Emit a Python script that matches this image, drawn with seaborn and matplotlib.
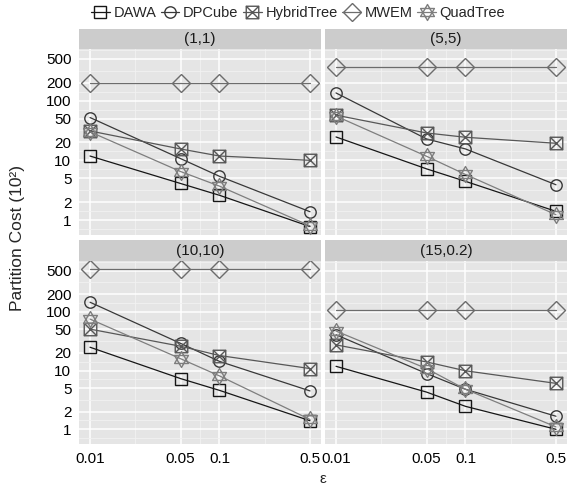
import matplotlib
matplotlib.use("Agg")
import matplotlib.pyplot as plt
from matplotlib.path import Path
from matplotlib.lines import Line2D
from matplotlib.ticker import FixedLocator, NullFormatter
import numpy as np
import pandas as pd
import seaborn as sns

# ---- data (partition cost in units of 10^2) ----
eps = [0.01, 0.05, 0.1, 0.5]
panels = ["(1,1)", "(5,5)", "(10,10)", "(15,0.2)"]
methods = ["DAWA", "DPCube", "HybridTree", "MWEM", "QuadTree"]

# one list per panel, in the order of `panels`
dawa = [[11.8, 4.1, 2.6, 0.78], [24.6, 7.2, 4.45, 1.4],
        [24.9, 7.3, 4.6, 1.4], [11.8, 4.3, 2.46, 1.0]]
dpcube = [[52, 10.7, 5.4, 1.38], [134, 22.8, 15.5, 3.9],
          [145, 29, 14.3, 4.5], [40.6, 8.9, 4.8, 1.67]]
hybridtree = [[31, 15.5, 11.8, 10.0], [57, 28.7, 24.3, 19.3],
              [50.6, 25.9, 18, 10.8], [27.3, 14, 9.9, 6.05]]
mwem = [[195, 195, 195, 195], [366, 366, 366, 366],
        [526, 526, 526, 526], [109, 109, 109, 109]]
quadtree = [[30, 6.5, 3.7, 0.8], [55, 11.7, 5.8, 1.23],
            [75, 15.9, 8.1, 1.47], [47, 10.8, 4.8, 1.1]]

y_breaks = [1, 2, 5, 10, 20, 50, 100, 200, 500]
x_breaks = eps
x_labels = ["0.01", "0.05", "0.1", "0.5"]

series = {"DAWA": dawa, "DPCube": dpcube, "HybridTree": hybridtree,
          "MWEM": mwem, "QuadTree": quadtree}

rows = []
for m in methods:
    for p, vals in zip(panels, series[m]):
        for e, v in zip(eps, vals):
            rows.append({"method": m, "panel": p, "eps": e, "cost": v})
df = pd.DataFrame(rows)

# ---- styles ----
colors = {"DAWA": "#161616", "DPCube": "#383838", "HybridTree": "#575757",
          "MWEM": "#6c6c6c", "QuadTree": "#7e7e7e"}

box_x = Path([(-1, -1), (1, -1), (1, 1), (-1, 1), (-1, -1),
              (-1, -1), (1, 1), (-1, 1), (1, -1)],
             [Path.MOVETO, Path.LINETO, Path.LINETO, Path.LINETO, Path.CLOSEPOLY,
              Path.MOVETO, Path.LINETO, Path.MOVETO, Path.LINETO])
h = np.sqrt(3) / 2
star = Path([(0, 1), (-h, -0.5), (h, -0.5), (0, 1),
             (0, -1), (-h, 0.5), (h, 0.5), (0, -1)],
            [Path.MOVETO, Path.LINETO, Path.LINETO, Path.CLOSEPOLY,
             Path.MOVETO, Path.LINETO, Path.LINETO, Path.CLOSEPOLY])
markers = {"DAWA": "s", "DPCube": "o", "HybridTree": box_x,
           "MWEM": "D", "QuadTree": star}
msizes = {"DAWA": 9, "DPCube": 8.2, "HybridTree": 9, "MWEM": 9, "QuadTree": 11.5}

sns.set_style("white")
plt.rcParams["font.family"] = ["Liberation Sans", "DejaVu Sans"]

W, H = 580, 487
fig = plt.figure(figsize=(W / 100, H / 100), dpi=100)


def rect(x0, y0, x1, y1):
    return [x0 / W, 1 - y1 / H, (x1 - x0) / W, (y1 - y0) / H]


cols_px = [(79, 321), (325, 567)]
rows_px = [(29, 49, 235), (240, 261, 444)]

# scale limits with ggplot-like 5% expansion in log space
lo, hi = np.log10(df["cost"].min()), np.log10(df["cost"].max())
pad = (hi - lo) * 0.05
ylim = (10 ** (lo - pad), 10 ** (hi + pad))
xlo, xhi = np.log10(min(eps)), np.log10(max(eps))
xpad = (xhi - xlo) * 0.05
xlim = (10 ** (xlo - xpad), 10 ** (xhi + xpad))


def minor_breaks(breaks, lim):
    b = list(np.log10(breaks))
    d = b[1] - b[0]
    b = [b[0] - d] + b + [b[-1] + d]
    mids = [(a + c) / 2 for a, c in zip(b[:-1], b[1:])]
    return [10 ** m for m in mids if lim[0] < 10 ** m < lim[1]]


for i, p in enumerate(panels):
    r, c = divmod(i, 2)
    st, top, bot = rows_px[r]
    x0, x1 = cols_px[c]

    sax = fig.add_axes(rect(x0, st, x1, top))
    sax.set_facecolor("#cccccc")
    sax.set_xticks([]); sax.set_yticks([])
    for s in sax.spines.values():
        s.set_visible(False)
    sax.text(0.5, 0.5, p, ha="center", va="center", fontsize=11,
             color="#1a1a1a", transform=sax.transAxes)

    ax = fig.add_axes(rect(x0, top, x1, bot))
    ax.set_facecolor("#e5e5e5")
    ax.set_xscale("log"); ax.set_yscale("log")
    ax.set_xlim(xlim); ax.set_ylim(ylim)
    ax.xaxis.set_major_locator(FixedLocator(x_breaks))
    ax.yaxis.set_major_locator(FixedLocator(y_breaks))
    ax.xaxis.set_minor_locator(FixedLocator(minor_breaks(x_breaks, xlim)))
    ax.yaxis.set_minor_locator(FixedLocator(minor_breaks(y_breaks, ylim)))
    ax.xaxis.set_minor_formatter(NullFormatter())
    ax.yaxis.set_minor_formatter(NullFormatter())
    ax.grid(True, which="minor", color="#f2f2f2", lw=0.6)
    ax.grid(True, which="major", color="white", lw=1.1)
    ax.set_axisbelow(True)
    for s in ax.spines.values():
        s.set_visible(False)

    sub = df[df["panel"] == p]
    for m in methods:
        d = sub[sub["method"] == m]
        sns.lineplot(data=d, x="eps", y="cost", ax=ax, color=colors[m],
                     lw=0.9, marker=markers[m], ms=msizes[m], mfc="none",
                     mec=colors[m], mew=1.0, legend=False)
    ax.set_xlabel(""); ax.set_ylabel("")

    ax.tick_params(which="major", length=3.5, width=0.8, color="#333333",
                   labelsize=11, labelcolor="black", pad=2)
    ax.tick_params(which="minor", length=0)
    if r == 1:
        ax.set_xticklabels(x_labels)
    else:
        ax.tick_params(axis="x", which="both", bottom=False, labelbottom=False)
    if c == 0:
        ax.set_yticklabels([str(v) for v in y_breaks])
    else:
        ax.tick_params(axis="y", which="both", left=False, labelleft=False)

handles = [Line2D([], [], color=colors[m], lw=0.9, marker=markers[m],
                  ms=msizes[m], mfc="none", mec=colors[m], mew=1.0)
           for m in methods]
fig.legend(handles, methods, loc="center", bbox_to_anchor=(298 / W, 1 - 13 / H),
           ncol=5, frameon=False, handlelength=1.3, handletextpad=0.25,
           columnspacing=0.3, fontsize=10.5, borderaxespad=0)

fig.text(18 / W, 1 - 238 / H, "Partition Cost (10²)", rotation=90,
         ha="center", va="center", fontsize=12.5)
fig.text(323 / W, 1 - 479 / H, "ε", ha="center", va="center", fontsize=11)

fig.savefig("out.png", dpi=100)
